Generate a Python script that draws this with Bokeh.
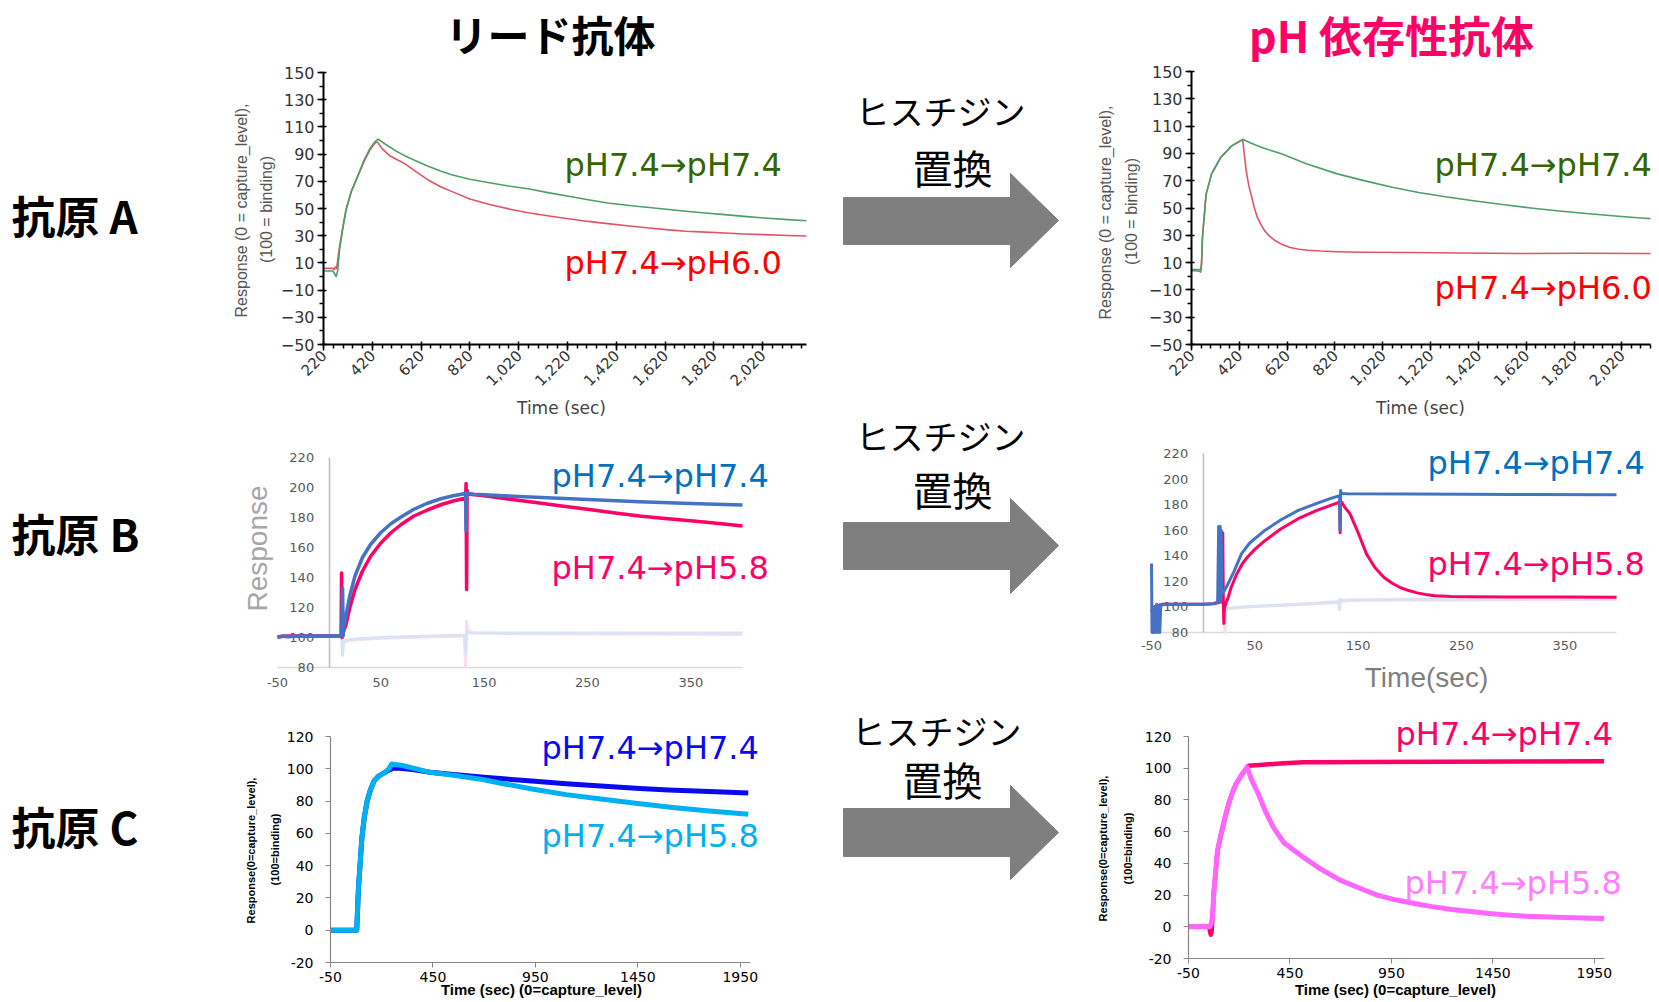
import math
from bokeh.plotting import figure
from bokeh.models import Range1d, Label, FixedTicker, NumeralTickFormatter, LinearAxis
from bokeh.core.properties import value
from bokeh.embed import file_html
from bokeh.resources import INLINE

# ---------------- data ----------------
# Antigen A, lead antibody (left)
A_lead_t74 = [220, 240, 258, 266, 272, 278, 286, 298, 313, 335, 361, 385, 410, 430, 444, 480, 520, 553, 600, 649,
              700, 745, 820, 905, 985, 1065, 1145, 1225, 1305, 1385, 1465, 1545, 1625, 1705, 1785, 1865, 1945, 2025, 2125, 2200]
A_lead_v74 = [4, 4, 4, 2, 0, 4, 20, 34, 49, 63, 74, 85, 94, 99, 101, 96.5, 92, 88.8, 85, 81,
              77.5, 74.8, 71.5, 68.7, 66.3, 64.3, 61.5, 59, 56.4, 54, 52.4, 50.9, 49.4, 48, 46.7, 45.5, 44.2, 43, 41.8, 41]
A_lead_t60 = [220, 240, 258, 264, 268, 274, 284, 298, 313, 335, 361, 385, 410, 430, 441, 460, 490, 520, 553, 600,
              649, 700, 745, 820, 905, 985, 1065, 1145, 1225, 1305, 1385, 1465, 1545, 1625, 1705, 1785, 1865, 1945, 2025, 2125, 2200]
A_lead_v60 = [6, 6, 6, 5, 7, 6, 20, 35, 50, 63, 74, 84, 93, 98, 99, 94, 89, 86, 83, 77,
              71, 66, 62.6, 57, 52.8, 49.5, 46.7, 44.5, 42.5, 40.5, 38.9, 37.3, 35.8, 34.5, 33.3, 32.6, 32, 31.3, 30.8, 30.2, 29.8]
# Antigen A, pH-dependent antibody (right)
A_ph_t74 = [220, 240, 255, 258, 262, 266, 281, 304, 342, 388, 434, 470, 520, 602, 700, 830, 950, 1060, 1170, 1289,
            1400, 1520, 1630, 1747, 1860, 1980, 2113, 2140]
A_ph_v74 = [4, 4, 3.5, 3, 9, 29, 60, 75, 87, 95.5, 100.3, 97.5, 94, 89.4, 82.5, 75, 69.7, 65.2, 61.4, 58,
            55.3, 52.6, 50.2, 48, 46.2, 44.3, 42.5, 42.2]
A_ph_t60 = [220, 240, 255, 258, 262, 266, 281, 304, 342, 388, 434, 449, 460, 472, 483, 495, 510, 525, 545, 571,
            600, 632, 670, 708, 760, 830, 950, 1136, 1350, 1594, 1850, 2113, 2140]
A_ph_v60 = [5, 5, 5, 4, 9, 29, 60, 75, 87, 95.5, 100, 77, 66, 58, 50, 43.3, 38, 33.6, 29.5, 26,
            23.2, 21, 19.8, 19.1, 18.5, 18, 17.6, 17.4, 17, 16.7, 16.8, 16.7, 16.7]

# Antigen B, lead antibody (left)
B_lead_t74 = [-50, -45, -40, -30, -20, -10, 0, 10, 12, 13, 13.5, 14, 16, 20, 25, 32, 40, 50, 60, 70,
              82, 95, 108, 120, 132, 132.5, 133, 134, 140, 170, 200, 250, 300, 350, 400]
B_lead_v74 = [100, 101, 100.5, 101, 101, 101, 101, 101, 101, 133, 101, 106, 114, 128, 141, 153, 162, 170, 176, 180.5,
              185.5, 189.5, 192.5, 194.5, 196, 171, 196.5, 196, 195.5, 194.5, 193.5, 192, 190.5, 189.3, 188.4]
B_lead_t58 = [-50, -40, -30, -20, -10, 0, 10, 11.5, 12, 12.5, 13, 16, 20, 25, 32, 40, 50, 60, 70, 82,
              95, 108, 120, 132, 132.5, 133, 133.5, 134, 136, 150, 175, 200, 225, 250, 275, 300, 325, 350, 375, 400]
B_lead_v58 = [100.5, 101, 101, 101, 101, 101, 101, 101, 143, 100, 102, 108, 120, 132, 144, 154, 163, 170, 175.5, 181,
              185, 188.5, 191, 193, 202.7, 132, 198, 196, 195.5, 194.5, 192.2, 190, 187.7, 185.5, 183.2, 181, 179.4, 177.8, 176.1, 174.4]
B_lead_ref_t = [10, 12, 13, 14, 16, 25, 50, 100, 131, 132, 133, 134, 140, 200, 300, 400]
B_lead_ref74 = [101, 101, 88, 97, 98, 99, 100, 101, 101.5, 90, 104, 103.5, 103, 103, 103, 103]
B_lead_ref58 = [101, 101, 96, 96.5, 97.5, 98.5, 99.5, 100.5, 101, 80, 111, 105, 103, 102.5, 102.3, 102]
# Antigen B, pH-dependent antibody (right)
B_ph_t74 = [-50, -49.5, -49, -47, -46, -45, -44, -43, -42, -41, -38, -30, -20, -10, 0, 10, 14, 15, 16, 16.5,
            17, 17.5, 18, 20, 24, 30, 37, 45, 60, 75, 92, 110, 122, 132, 132.5, 133, 133.5, 135, 140, 200, 300, 400]
B_ph_v74 = [134, 80, 80, 100, 80, 102, 80, 101, 80, 101, 102, 102, 102, 102, 102, 102.5, 104, 163, 105, 163,
            104, 160, 110, 112, 118, 128, 141.5, 150, 160, 168, 175.5, 181, 184.5, 187, 160, 191, 189, 188.7, 188.5, 188.3, 188, 187.8]
B_ph_t58 = [-50, -48.5, -48, -47, -45, -40, -30, -20, -10, 0, 10, 15, 18, 19, 19.5, 20, 20.5, 21, 22, 24,
            27, 32, 38, 43, 50, 60, 75, 92, 110, 122, 132, 132.5, 133, 134, 137, 142, 150, 158, 166, 175,
            183, 191, 199, 207, 215, 224, 240, 257, 300, 350, 400]
B_ph_v58 = [96, 100, 80, 100, 101, 102, 102, 102, 102, 102, 102.5, 103.5, 104, 158, 104, 87, 98, 100, 103, 107,
            115, 125, 134, 139, 145, 152, 161, 169, 175.5, 179, 182, 158, 183, 182, 178, 173, 158, 141.5, 131, 123,
            118.5, 115, 112.8, 111, 109.8, 108.8, 108.2, 108, 107.8, 107.7, 107.5]
B_ph_ref74_t = [20, 22, 25, 40, 60, 100, 131, 132, 133, 134, 140, 200, 300, 400]
B_ph_ref74_v = [100, 97, 99, 100, 101, 102.5, 104, 98, 106, 105, 105.5, 105.8, 106, 106]
B_ph_ref58_t = [20, 21, 22, 25, 40, 100, 131, 133, 134, 140, 200, 300, 400]
B_ph_ref58_v = [95, 80, 97, 98.5, 100, 102, 103.5, 106, 104, 105, 105.5, 105.7, 105.8]

# Antigen C, lead antibody (left)
C_lead_t74 = [-50, 0, 50, 70, 78, 86, 95, 103, 115, 129, 145, 163, 185, 214, 240, 260, 300, 350, 436, 550,
              700, 850, 948, 1100, 1250, 1460, 1600, 1800, 1989]
C_lead_v74 = [0, 0, 0, 0, 0, 25, 42, 57, 70, 80, 87, 92.5, 95.5, 97.6, 99.5, 100.5, 100.2, 99.5, 97.8, 96.5,
              94.8, 93.2, 92.3, 90.8, 89.5, 87.8, 86.9, 85.9, 85]
C_lead_t58 = [-50, 0, 50, 70, 78, 86, 95, 103, 115, 129, 145, 163, 185, 214, 235, 249, 300, 350, 436, 550,
              692, 800, 948, 1100, 1290, 1450, 1631, 1800, 1989]
C_lead_v58 = [0, 0, 0, 0, 0, 25, 42, 57, 70, 80, 87, 92.5, 95.5, 97.6, 100, 103, 102, 100.5, 97.8, 96,
              93.4, 90.6, 87.2, 84, 81, 78.5, 75.9, 73.8, 71.8]
# Antigen C, pH-dependent antibody (right)
C_ph_t74 = [-50, 0, 40, 52, 56, 60, 64, 68, 75, 93, 111, 130, 148, 166, 184, 210, 239, 245, 300, 400,
            514, 800, 1200, 1600, 1998]
C_ph_v74 = [0, 0, 0, 0, -3, -5, -3, 5, 22, 48, 58.7, 69, 77.6, 84.5, 90, 95.5, 100.6, 101.5, 102, 103,
            103.7, 103.9, 104.1, 104.3, 104.4]
C_ph_t58 = [-50, 0, 40, 55, 62, 68, 75, 93, 111, 130, 148, 166, 184, 210, 239, 260, 294, 330, 368, 420,
            514, 600, 697, 800, 880, 970, 1063, 1150, 1247, 1340, 1430, 1520, 1613, 1800, 1998]
C_ph_v58 = [0, 0, 0, 0, 2, 6, 22, 48, 58.7, 69, 77.6, 84.5, 90, 95.5, 100.6, 93, 83.9, 72.5, 62.9, 53,
            44, 36.5, 29.4, 24, 20, 17, 14.7, 12.7, 10.9, 9.6, 8.4, 7.5, 6.7, 5.8, 5.2]

# ticks
A_XTICKS = [220, 420, 620, 820, 1020, 1220, 1420, 1620, 1820, 2020]
A_YTICKS = [-50, -30, -10, 10, 30, 50, 70, 90, 110, 130, 150]
B_XTICKS = [-50, 50, 150, 250, 350]
B_YTICKS = [80, 100, 120, 140, 160, 180, 200, 220]
C_XTICKS = [-50, 450, 950, 1450, 1950]
C_YTICKS = [-20, 0, 20, 40, 60, 80, 100, 120]

# texts
TITLE_LEAD = "リード抗体"
TITLE_PH = "pH 依存性抗体"
ROW_LABELS = ["抗原 A", "抗原 B", "抗原 C"]
ARROW_TEXT = ["ヒスチジン", "置換"]
LBL_74 = "pH7.4\u2192pH7.4"
LBL_60 = "pH7.4\u2192pH6.0"
LBL_58 = "pH7.4\u2192pH5.8"

# ---------------- page canvas (pixel coordinates, y downwards) ----------------
W, H = 1655, 998
SANS = "DejaVu Sans"
JP = "Noto Sans CJK JP"

# panel frames on the page (left, right, top, bottom) and their data ranges
PANELS = {
    "AL": ((323, 806, 72, 344), (220, 2200), (-50, 150)),
    "AR": ((1191, 1650, 71, 344), (220, 2140), (-50, 150)),
    "BL": ((277, 742, 457, 667), (-50, 400), (80, 220)),
    "BR": ((1151, 1616, 453, 632), (-50, 400), (80, 220)),
    "CL": ((330, 750, 736, 962), (-50, 2000), (-20, 120)),
    "CR": ((1188, 1604, 736, 958), (-50, 2000), (-20, 120)),
}

xr_extra, yr_extra = {}, {}
for name, (fr, xr, yr) in PANELS.items():
    fx0, fx1, fy0, fy1 = fr
    sx = (xr[1] - xr[0]) / (fx1 - fx0)
    sy = (yr[1] - yr[0]) / (fy1 - fy0)
    xr_extra[name] = Range1d(xr[0] - fx0 * sx, xr[1] + (W - fx1) * sx)
    yr_extra[name] = Range1d(yr[0] - (H - fy1) * sy, yr[1] + fy0 * sy)

p = figure(width=W, height=H, x_range=Range1d(0, W), y_range=Range1d(H, 0),
           min_border=0, x_axis_location=None, y_axis_location=None,
           output_backend="svg", toolbar_location=None)
p.outline_line_color = None
p.grid.visible = False
p.xgrid.grid_line_color = None
p.ygrid.grid_line_color = None
p.extra_x_ranges = xr_extra
p.extra_y_ranges = yr_extra


def line(name, t, v, color, width):
    p.line(t, v, line_color=color, line_width=width, line_join="round",
           x_range_name=name, y_range_name=name)


def text(x, y, s, size, color, font=SANS, align="left", angle=0.0, style="normal"):
    p.add_layout(Label(x=x, y=y, text=s, text_font=font, text_font_size=f"{size}px",
                       text_color=color, text_align=align, text_baseline="middle",
                       angle=angle, text_font_style=style))


def axes(name, xticker, yticker, xloc, yloc):
    _, xr, yr = PANELS[name]
    xa = LinearAxis(x_range_name=name, y_range_name=name, fixed_location=xloc, bounds=xr, ticker=xticker)
    ya = LinearAxis(x_range_name=name, y_range_name=name, fixed_location=yloc, bounds=yr, ticker=yticker)
    p.add_layout(xa, "below")
    p.add_layout(ya, "left")
    return xa, ya


def style_A(name):
    xr = PANELS[name][1]
    xa, ya = axes(name,
                  FixedTicker(ticks=A_XTICKS, minor_ticks=list(range(220, int(xr[1]) + 1, 40))),
                  FixedTicker(ticks=A_YTICKS, minor_ticks=list(range(-50, 151, 10))),
                  -50, 220)
    xa.formatter = NumeralTickFormatter(format="0,0")
    ya.major_label_overrides = {-50: "\u221250", -30: "\u221230", -10: "\u221210"}
    for ax in (xa, ya):
        ax.axis_line_color = "black"
        ax.axis_line_width = 2
        ax.major_tick_line_color = "black"
        ax.major_tick_line_width = 1.5
        ax.minor_tick_line_color = "black"
        ax.minor_tick_line_width = 1.5
        ax.major_tick_in = 3
        ax.major_tick_out = 6
        ax.minor_tick_in = 0
        ax.minor_tick_out = 4
        ax.major_label_text_font = SANS
        ax.major_label_text_color = "#333333"
    ya.major_label_text_font_size = "16px"
    ya.major_label_standoff = 3
    xa.major_label_text_font_size = "15px"
    xa.major_label_orientation = math.pi / 4
    xa.major_label_standoff = 2


def style_B(name):
    xa, ya = axes(name, FixedTicker(ticks=B_XTICKS, minor_ticks=[]),
                  FixedTicker(ticks=B_YTICKS, minor_ticks=[]), 80, 0)
    xa.major_label_overrides = {-50: "-50"}
    for ax in (xa, ya):
        ax.major_tick_in = 0
        ax.major_tick_out = 0
        ax.minor_tick_in = 0
        ax.minor_tick_out = 0
        ax.major_label_text_font = SANS
        ax.major_label_text_font_size = "13px"
        ax.major_label_text_color = "#595959"
        ax.level = "underlay"
    xa.axis_line_color = "#d9d9d9"
    xa.axis_line_width = 1.5
    ya.axis_line_color = "#bfbfbf"
    ya.axis_line_width = 1.5
    ya.major_label_standoff = 15
    xa.major_label_standoff = 10 if name == "BL" else 8


def style_C(name):
    xa, ya = axes(name, FixedTicker(ticks=C_XTICKS, minor_ticks=[]),
                  FixedTicker(ticks=C_YTICKS, minor_ticks=[]), -20, -50)
    xa.major_label_overrides = {-50: "-50"}
    ya.major_label_overrides = {-20: "-20"}
    for ax in (xa, ya):
        ax.axis_line_color = "#868686"
        ax.axis_line_width = 1.2
        ax.major_tick_line_color = "#868686"
        ax.major_tick_in = 0
        ax.major_tick_out = 5
        ax.minor_tick_in = 0
        ax.minor_tick_out = 0
        ax.major_label_text_font = SANS
        ax.major_label_text_font_size = "14px"
        ax.major_label_text_color = "#000000"
    xa.major_label_standoff = 4
    ya.major_label_standoff = 12


LS = 32  # series label font size

# ---------------- titles, row labels, arrows ----------------
text(550, 33, TITLE_LEAD, 42, "#000000", font=JP, align="center", style="bold")
text(1391, 33, TITLE_PH, 43, "#ff0066", font=JP, align="center", style="bold")
for lbl, y in zip(ROW_LABELS, [214, 532, 825]):
    text(11, y, lbl, 44, "#000000", font=JP, align="left", style="bold")

arrow_geo = [  # (text1 x, y, text2 x, y, body top, body bottom, head top, head bottom, tip y)
    (940, 110, 952, 166, 197, 244, 173, 267, 220),
    (940, 435, 952, 488, 522, 569, 498, 593, 545),
    (936, 730, 942, 778, 808, 856, 785, 879, 832),
]
for t1x, t1y, t2x, t2y, bt, bb, ht, hb, tip in arrow_geo:
    p.patch(x=[843, 1010, 1010, 1058, 1010, 1010, 843], y=[bt, bt, ht, tip, hb, bb, bb],
            fill_color="#7f7f7f", line_color="#7f7f7f")
    text(t1x, t1y, ARROW_TEXT[0], 34, "#000000", font=JP, align="center")
    text(t2x, t2y, ARROW_TEXT[1], 40, "#000000", font=JP, align="center")

# ---------------- A ----------------
style_A("AL")
line("AL", A_lead_t60, A_lead_v60, "#dd5566", 1.6)
line("AL", A_lead_t74, A_lead_v74, "#4c9f68", 1.6)
text(564, 164, LBL_74, LS, "#336600")
text(564, 262, LBL_60, LS, "#ff0000")
text(241, 210, "Response (0 = capture_level),", 16, "#555555", font="Liberation Sans",
     align="center", angle=math.pi / 2)
text(266, 209, "(100 = binding)", 16, "#555555", font="Liberation Sans",
     align="center", angle=math.pi / 2)
text(561, 407, "Time (sec)", 17, "#444444", align="center")

style_A("AR")
line("AR", A_ph_t60, A_ph_v60, "#dd5566", 1.6)
line("AR", A_ph_t74, A_ph_v74, "#4c9f68", 1.6)
text(1434, 164, LBL_74, LS, "#336600")
text(1434, 287, LBL_60, LS, "#ff0000")
text(1105, 212, "Response (0 = capture_level),", 16, "#555555", font="Liberation Sans",
     align="center", angle=math.pi / 2)
text(1131, 211, "(100 = binding)", 16, "#555555", font="Liberation Sans",
     align="center", angle=math.pi / 2)
text(1420, 407, "Time (sec)", 17, "#444444", align="center")

# ---------------- B ----------------
style_B("BL")
line("BL", B_lead_ref_t, B_lead_ref58, "#fbdcef", 3)
line("BL", B_lead_ref_t, B_lead_ref74, "#dae3f3", 3)
line("BL", B_lead_t58, B_lead_v58, "#ff0066", 3.5)
line("BL", B_lead_t74, B_lead_v74, "#4472c4", 3.5)
text(551, 475, LBL_74, LS, "#0070c0")
text(551, 567, LBL_58, LS, "#ff0066")
text(257, 548, "Response", 28, "#a6a6a6", font="Liberation Sans", align="center", angle=math.pi / 2)

style_B("BR")
line("BR", B_ph_ref58_t, B_ph_ref58_v, "#fbdcef", 3)
line("BR", B_ph_ref74_t, B_ph_ref74_v, "#dae3f3", 3)
line("BR", B_ph_t58, B_ph_v58, "#ff0066", 3)
line("BR", B_ph_t74, B_ph_v74, "#4472c4", 3)
text(1427, 462, LBL_74, LS, "#0070c0")
text(1427, 563, LBL_58, LS, "#ff0066")
text(1426, 677, "Time(sec)", 28, "#7f7f7f", font="Liberation Sans", align="center")

# ---------------- C ----------------
style_C("CL")
line("CL", C_lead_t74, C_lead_v74, "#0a0aee", 5)
line("CL", C_lead_t58, C_lead_v58, "#00b0f0", 5)
text(541, 747, LBL_74, LS, "#0a0aee")
text(541, 835, LBL_58, LS, "#00b0f0")
text(250, 850, "Response(0=capture_level),", 11, "#000000", font="Liberation Sans",
     align="center", angle=math.pi / 2, style="bold")
text(274, 849, "(100=binding)", 11, "#000000", font="Liberation Sans",
     align="center", angle=math.pi / 2, style="bold")
text(541, 989, "Time (sec) (0=capture_level)", 15, "#000000", font="Liberation Sans",
     align="center", style="bold")

style_C("CR")
line("CR", C_ph_t74, C_ph_v74, "#ff0066", 4.5)
line("CR", C_ph_t58, C_ph_v58, "#ff66ff", 5)
text(1395, 733, LBL_74, LS, "#ff0066")
text(1404, 882, LBL_58, LS, "#ff80ff")
text(1102, 848, "Response(0=capture_level),", 11, "#000000", font="Liberation Sans",
     align="center", angle=math.pi / 2, style="bold")
text(1127, 848, "(100=binding)", 11, "#000000", font="Liberation Sans",
     align="center", angle=math.pi / 2, style="bold")
text(1395, 989, "Time (sec) (0=capture_level)", 15, "#000000", font="Liberation Sans",
     align="center", style="bold")

open("out.html", "w").write(file_html(p, INLINE))
